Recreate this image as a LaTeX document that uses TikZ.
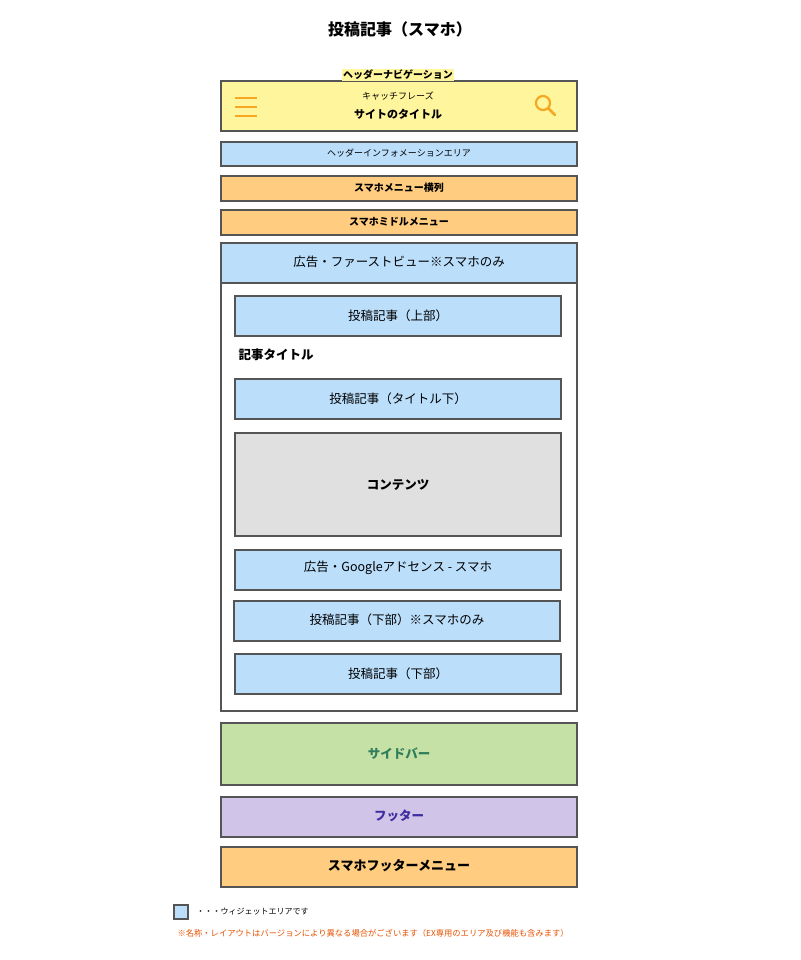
\documentclass[tikz,border=0pt]{standalone}
\usepackage{fontspec}
\setmainfont{Noto Sans CJK JP}
\usetikzlibrary{positioning}
\definecolor{framegray}{HTML}{555555}
\definecolor{navyellow}{HTML}{FFF59D}
\definecolor{widgetblue}{HTML}{BBDEFB}
\definecolor{menuorange}{HTML}{FFCC80}
\definecolor{contentgray}{HTML}{E0E0E0}
\definecolor{sidegreen}{HTML}{C5E1A5}
\definecolor{footpurple}{HTML}{D1C4E9}
\definecolor{iconorange}{HTML}{F5A623}
\definecolor{notered}{HTML}{E65100}
\definecolor{sidetext}{HTML}{2E7D5B}
\definecolor{foottext}{HTML}{3F2EA0}

\begin{document}
\begin{tikzpicture}[x=1pt, y=-1pt, every node/.style={font=\fontsize{11}{13}\selectfont},
    part/.style={draw=framegray, line width=1.6pt}]
    \useasboundingbox (0,0) rectangle (800,960);

    % Title
    \node[font=\fontsize{16}{18}\selectfont\bfseries] (title) at (400,29) {投稿記事（スマホ）};

    % Header navigation
    \draw[part, fill=navyellow] (221,81) rectangle (577,131);
    \node[fill=navyellow, inner sep=1pt, font=\fontsize{10}{12}\selectfont\bfseries] (navlabel) at (398,75) {ヘッダーナビゲーション};
    \node[font=\fontsize{9}{11}\selectfont] (catch) at (398,96) {キャッチフレーズ};
    \node[font=\fontsize{11}{13}\selectfont\bfseries] (sitetitle) at (398,114) {サイトのタイトル};
    \foreach \y in {98,107,116}
        \draw[iconorange, line width=2.3pt] (235,\y) -- (257,\y);
    \draw[iconorange, line width=2.2pt] (543,103) circle (7);
    \draw[iconorange, line width=2.6pt, line cap=round] (548,108) -- (555,115);

    % Header info and menus
    \draw[part, fill=widgetblue] (221,142) rectangle (577,166);
    \node[font=\fontsize{9}{11}\selectfont] (info) at (399,153) {ヘッダーインフォメーションエリア};
    \draw[part, fill=menuorange] (221,176) rectangle (577,201);
    \node[font=\fontsize{10}{12}\selectfont\bfseries] (rowmenu) at (399,188) {スマホメニュー横列};
    \draw[part, fill=menuorange] (221,210) rectangle (577,235);
    \node[font=\fontsize{10}{12}\selectfont\bfseries] (midmenu) at (399,222) {スマホミドルメニュー};

    % Main area
    \draw[part, fill=white] (221,243) rectangle (577,711);
    \draw[part, fill=widgetblue] (221,243) rectangle (577,283);
    \node[font=\fontsize{12.5}{14}\selectfont] (firstview) at (399,262) {広告・ファーストビュー※スマホのみ};

    \draw[part, fill=widgetblue] (235,296) rectangle (561,336);
    \node[font=\fontsize{12.5}{14}\selectfont] (top) at (398,316) {投稿記事（上部）};
    \node[anchor=west, font=\fontsize{12.5}{14}\selectfont\bfseries] (heading) at (235,355) {記事タイトル};
    \draw[part, fill=widgetblue] (235,379) rectangle (561,419);
    \node[font=\fontsize{12.5}{14}\selectfont] (undertitle) at (398,399) {投稿記事（タイトル下）};
    \draw[part, fill=contentgray] (235,433) rectangle (561,536);
    \node[font=\fontsize{12.5}{14}\selectfont\bfseries] (contents) at (398,485) {コンテンツ};
    \draw[part, fill=widgetblue] (235,550) rectangle (561,590);
    \node[font=\fontsize{12.5}{14}\selectfont] (adsense) at (398,568) {広告・Googleアドセンス - スマホ};
    \draw[part, fill=widgetblue] (234,601) rectangle (560,641);
    \node[font=\fontsize{12.5}{14}\selectfont] (bottomsp) at (397,620) {投稿記事（下部）※スマホのみ};
    \draw[part, fill=widgetblue] (235,654) rectangle (561,694);
    \node[font=\fontsize{12.5}{14}\selectfont] (bottom) at (398,674) {投稿記事（下部）};

    % Sidebar and footer
    \draw[part, fill=sidegreen] (221,723) rectangle (577,785);
    \node[font=\fontsize{12.5}{14}\selectfont\bfseries, text=sidetext] (sidebar) at (399,754) {サイドバー};
    \draw[part, fill=footpurple] (221,797) rectangle (577,837);
    \node[font=\fontsize{12.5}{14}\selectfont\bfseries, text=foottext] (footer) at (399,816) {フッター};
    \draw[part, fill=menuorange] (221,847) rectangle (577,887);
    \node[font=\fontsize{13}{15}\selectfont\bfseries] (footmenu) at (399,866) {スマホフッターメニュー};

    % Legend
    \draw[part, fill=widgetblue] (174,905) rectangle (188,919);
    \node[anchor=west, font=\fontsize{8}{10}\selectfont] (legend) at (193,912) {・・・ウィジェットエリアです};
    \node[anchor=west, text=notered, font=\fontsize{8.3}{10}\selectfont] (note) at (174,933) {※名称・レイアウトはバージョンにより異なる場合がございます（EX専用のエリア及び機能も含みます）};
\end{tikzpicture}
\end{document}
